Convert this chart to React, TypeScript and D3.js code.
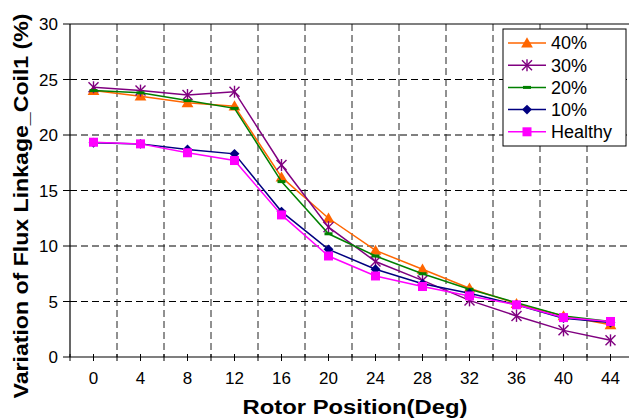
import React from 'react';
import * as d3 from 'd3';

const positions = ['0', '4', '8', '12', '16', '20', '24', '28', '32', '36', '40', '44'];
const s40 = [24.0, 23.5, 22.9, 22.6, 16.2, 12.5, 9.6, 7.9, 6.2, 4.8, 3.7, 2.9];
const s30 = [24.3, 24.0, 23.6, 23.9, 17.3, 11.7, 8.6, 6.9, 5.1, 3.7, 2.4, 1.5];
const s20 = [24.0, 23.8, 23.1, 22.4, 15.8, 11.1, 9.1, 7.5, 6.1, 4.9, 3.7, 3.2];
const s10 = [19.3, 19.2, 18.7, 18.3, 13.1, 9.7, 7.9, 6.6, 5.75, 4.7, 3.5, 3.1];
const healthy = [19.35, 19.2, 18.4, 17.7, 12.8, 9.1, 7.3, 6.35, 5.5, 4.7, 3.55, 3.2];
const yTicks = [0, 5, 10, 15, 20, 25, 30];

const series = [
  { name: '40%', values: s40, color: '#FF6600', marker: 'triangle' },
  { name: '30%', values: s30, color: '#800080', marker: 'star' },
  { name: '20%', values: s20, color: '#008000', marker: 'dash' },
  { name: '10%', values: s10, color: '#000080', marker: 'diamond' },
  { name: 'Healthy', values: healthy, color: '#FF00FF', marker: 'square' },
];

const W = 629, H = 418;
const left = 70, right = 634, top = 24, bottom = 357;

const Marker = ({ type, x, y, color }) => {
  if (type === 'triangle')
    return <path d={d3.symbol(d3.symbolTriangle, 60)()} transform={`translate(${x},${y + 1})`} fill={color} />;
  if (type === 'diamond')
    return <rect x={-3.5} y={-3.5} width={7} height={7} fill={color} transform={`translate(${x},${y}) rotate(45)`} />;
  if (type === 'square')
    return <rect x={x - 4.5} y={y - 4.5} width={9} height={9} fill={color} />;
  if (type === 'dash')
    return <rect x={x - 4} y={y - 1.5} width={8} height={3} fill={color} />;
  // asterisk
  const r = 5;
  return (
    <g stroke={color} strokeWidth={1.4}>
      <line x1={x - r} y1={y - r} x2={x + r} y2={y + r} />
      <line x1={x - r} y1={y + r} x2={x + r} y2={y - r} />
      <line x1={x} y1={y - r - 1} x2={x} y2={y + r + 1} />
    </g>
  );
};

const App = () => {
  const x = d3.scaleBand().domain(positions).range([left, right]).padding(0);
  const y = d3.scaleLinear().domain([0, 30]).range([bottom, top]);
  const cx = (p) => x(p) + x.bandwidth() / 2;
  const line = d3.line().x((d) => cx(d[0])).y((d) => y(d[1]));
  const half = x.bandwidth() / 2;

  return (
    <svg width={W} height={H} style={{ position: 'absolute', left: 0, top: 0, background: '#fff' }}
      fontFamily="'Liberation Sans', Arial, sans-serif">
      {/* grid */}
      {yTicks.filter((t) => t > 0 && t < 30).map((t) => (
        <line key={'h' + t} x1={left} x2={right} y1={y(t)} y2={y(t)} stroke="#000" strokeDasharray="7,4" strokeWidth={1} />
      ))}
      {positions.slice(1).map((p) => (
        <line key={'v' + p} x1={x(p)} x2={x(p)} y1={top} y2={bottom} stroke="#222" strokeDasharray="7,4" strokeWidth={1} />
      ))}
      <line x1={left} x2={right} y1={top} y2={top} stroke="#000" strokeWidth={1.2} />
      <line x1={left} x2={left} y1={top} y2={bottom} stroke="#000" strokeWidth={1.2} />
      <line x1={left} x2={right} y1={bottom} y2={bottom} stroke="#000" strokeWidth={1.2} />

      {/* y ticks */}
      {yTicks.map((t) => (
        <g key={'yt' + t}>
          <line x1={left - 7} x2={left} y1={y(t)} y2={y(t)} stroke="#000" />
          <text x={left - 12} y={y(t)} dy="0.36em" textAnchor="end" fontSize={17}>{t}</text>
        </g>
      ))}
      {/* x ticks */}
      {positions.map((p) => (
        <g key={'xt' + p}>
          <line x1={x(p)} x2={x(p)} y1={bottom - 3} y2={bottom + 4} stroke="#000" />
          <line x1={x(p) + half} x2={x(p) + half} y1={bottom - 3} y2={bottom + 4} stroke="#000" />
          <text x={cx(p)} y={bottom + 27} textAnchor="middle" fontSize={17}>{p}</text>
        </g>
      ))}

      {/* series */}
      {series.map((s) => (
        <g key={s.name}>
          <path d={line(s.values.map((v, i) => [positions[i], v]))} fill="none" stroke={s.color} strokeWidth={1.5} />
          {s.values.map((v, i) => (
            <Marker key={i} type={s.marker} x={cx(positions[i])} y={y(v)} color={s.color} />
          ))}
        </g>
      ))}

      {/* legend */}
      <rect x={503} y={29} width={123} height={117} fill="#fff" stroke="#000" strokeWidth={1} />
      {series.map((s, i) => {
        const ly = 43 + i * 22.2;
        return (
          <g key={'lg' + s.name}>
            <line x1={508} x2={546} y1={ly} y2={ly} stroke={s.color} strokeWidth={1.5} />
            <Marker type={s.marker} x={527} y={ly} color={s.color} />
            <text x={551} y={ly} dy="0.36em" fontSize={18}>{s.name}</text>
          </g>
        );
      })}

      {/* axis titles */}
      <text x={355} y={414} textAnchor="middle" fontSize={20} fontWeight="bold"
        textLength={225} lengthAdjust="spacingAndGlyphs">Rotor Position(Deg)</text>
      <text transform="translate(28,206) rotate(-90)" textAnchor="middle" fontSize={20} fontWeight="bold"
        textLength={385} lengthAdjust="spacingAndGlyphs">
        Variation of Flux Linkage_Coil1 (%)
      </text>
    </svg>
  );
};

export default App;
